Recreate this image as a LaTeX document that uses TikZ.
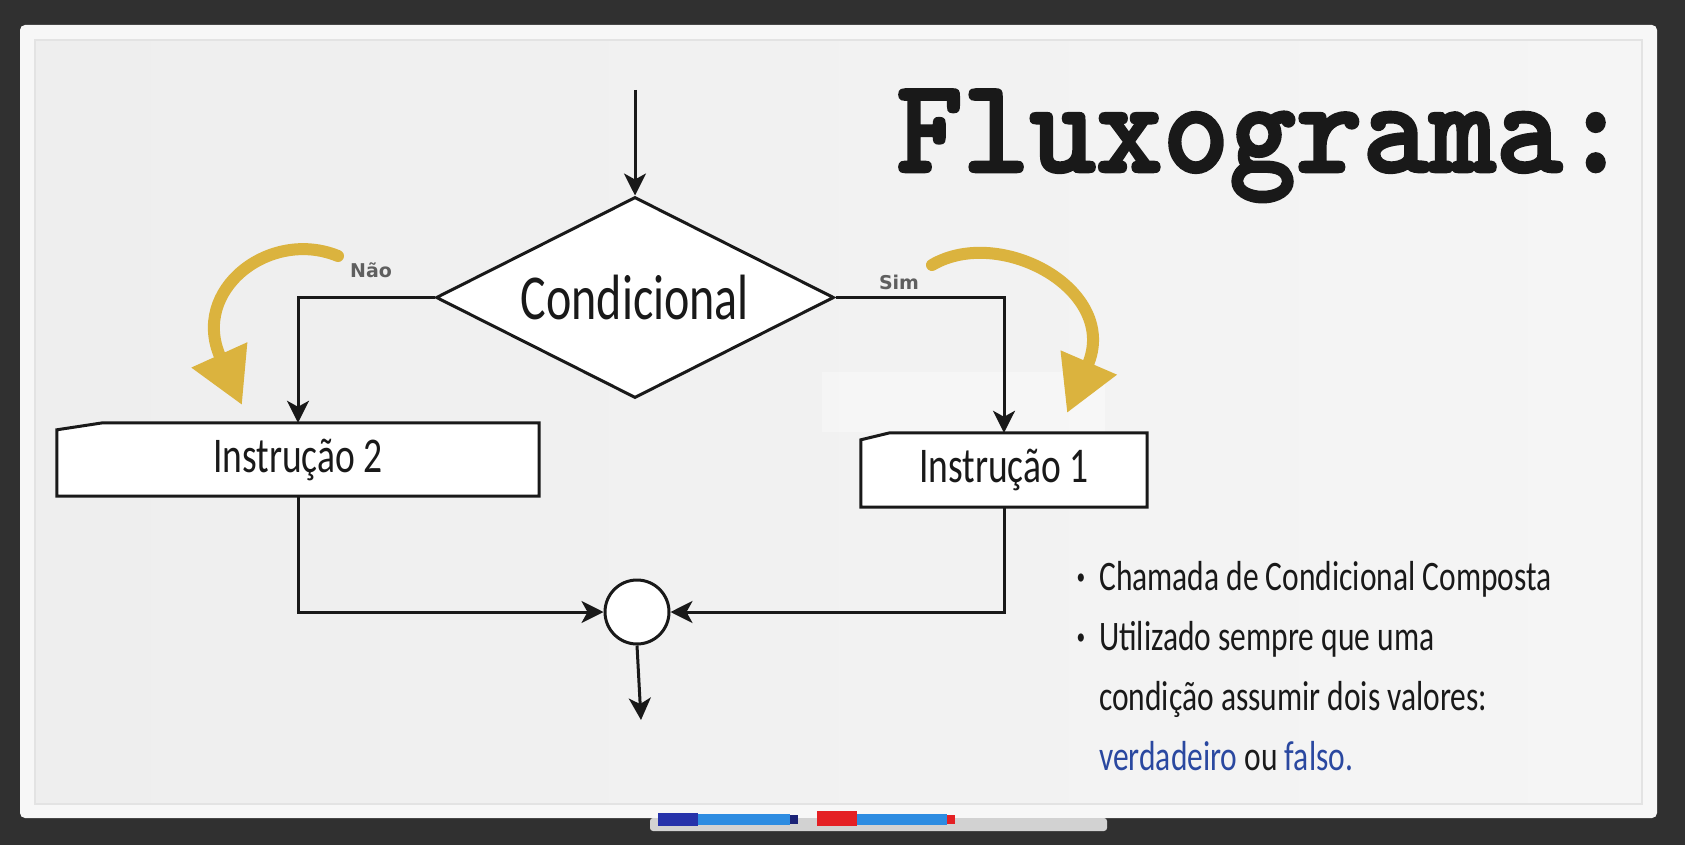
\documentclass[tikz,border=0pt]{standalone}
\usepackage{fontspec}
\usetikzlibrary{shapes.geometric,arrows.meta,backgrounds}
\newfontfamily\handfont{Carlito}[FakeStretch=0.75]
\newfontfamily\labelfont{DejaVu Sans}
\newfontfamily\titlefont{lmmonolt10-bold}[Extension=.otf,FakeBold=2,FakeStretch=0.94]
\definecolor{boardbg}{RGB}{48,48,48}
\definecolor{frameclr}{RGB}{247,247,247}
\definecolor{surfleft}{RGB}{238,238,238}
\definecolor{surfright}{RGB}{245,245,245}
\definecolor{arrowgold}{RGB}{219,179,62}
\definecolor{inkblue}{RGB}{42,72,160}
\definecolor{inkblack}{RGB}{25,25,25}
\definecolor{labelgray}{RGB}{95,95,95}
\definecolor{markerblue}{RGB}{45,140,225}
\definecolor{capblue}{RGB}{38,50,170}
\definecolor{capred}{RGB}{228,32,36}
\definecolor{trayclr}{RGB}{210,210,210}
\tikzset{
    flow/.style={draw=inkblack, line width=3pt, -{Stealth[length=22pt,width=22pt,inset=6pt]}},
    cond/.style={diamond, aspect=2, draw=inkblack, fill=white, line width=3pt,
        minimum width=398pt, minimum height=201pt, inner sep=0pt,
        font={\handfont\fontsize{64pt}{64pt}\selectfont}, text=inkblack},
    instr/.style={rectangle, minimum height=73pt, inner sep=0pt,
        font={\handfont\fontsize{50pt}{50pt}\selectfont}, text=inkblack},
    boxline/.style={draw=inkblack, fill=white, line width=3pt},
    joinpt/.style={circle, draw=inkblack, fill=white, line width=3pt, minimum size=64pt, inner sep=0pt},
    lbl/.style={font={\labelfont\bfseries\fontsize{19pt}{19pt}\selectfont}, text=labelgray, inner sep=0pt},
    turn/.style={draw=arrowgold, line width=12pt, line cap=round, -{Triangle[length=55pt,width=58pt]}},
    note/.style={anchor=base west, inner sep=0pt, text=inkblack,
        font={\handfont\fontsize{42pt}{60pt}\selectfont}},
    title/.style={anchor=base west, inner sep=0pt, text=inkblack,
        font={\titlefont\fontsize{135pt}{135pt}\selectfont}}
}
\newcommand{\dotmark}{\llap{\raisebox{6pt}{\scalebox{0.55}{\textbullet}}\hspace{14pt}}}
\begin{document}
\begin{tikzpicture}[x=1pt,y=-1pt]
    \useasboundingbox (0,0) rectangle (1685,845);
    \begin{scope}[on background layer]
        \fill[boardbg] (0,0) rectangle (1685,845);
        \fill[frameclr, rounded corners=5pt] (20,25) rectangle (1657,818);
        \shade[left color=surfleft, right color=surfright] (35,40) rectangle (1642,804);
        \draw[gray!22, line width=1.5pt] (35,40) rectangle (1642,804);
        \fill[white, opacity=0.35] (822,372) rectangle (1105,432);
        \fill[trayclr, rounded corners=3pt] (650,818) rectangle (1107,831);
        \fill[capblue] (658,813) rectangle (698,826);
        \fill[markerblue] (698,814) rectangle (790,825);
        \fill[capblue!70!black] (790,815) rectangle (798,824);
        \fill[capred] (817,811) rectangle (857,826);
        \fill[markerblue] (857,814) rectangle (947,825);
        \fill[capred] (947,815) rectangle (955,824);
    \end{scope}

    \node[title] (ttl) at (896,172) {Fluxograma:};

    \coordinate (entry) at (635,90);
    \node[cond] (cond) at (635,297.5) {Condicional};
    \node[instr, minimum width=482pt] (i2) at (298,459.5) {Instrução 2};
    \node[instr, minimum width=286pt, minimum height=74pt] (i1) at (1004,470) {Instrução 1};
    \node[joinpt] (join) at (637,612) {};
    \coordinate (exit) at (641,720);

    \begin{scope}[on background layer]
        \draw[boxline] (i2.south west) -- (i2.south east) -- (i2.north east)
            -- ([xshift=46pt]i2.north west) -- ([yshift=-7pt]i2.north west) -- cycle;
        \draw[boxline] (i1.south west) -- (i1.south east) -- (i1.north east)
            -- ([xshift=29pt]i1.north west) -- ([yshift=-7pt]i1.north west) -- cycle;
    \end{scope}

    \draw[flow] (entry) -- (cond.north);
    \draw[flow] (cond.west) -| (i2.north);
    \draw[flow] (cond.east) -| (i1.north);
    \draw[flow] (i2.south) |- (join.west);
    \draw[flow] (i1.south) |- (join.east);
    \draw[flow] (join.south) -- (exit);

    \node[lbl] (nao) at (371,270) {Não};
    \node[lbl] (sim) at (899,282) {Sim};

    \draw[turn] (338,256) .. controls (270,228) and (190,290) .. (242,405);
    \draw[turn] (932,265) .. controls (1000,225) and (1120,290) .. (1067,413);

    \node[note] (n1) at (1099,590) {\dotmark Chamada de Condicional Composta};
    \node[note] (n2) at (1099,650) {\dotmark Utilizado sempre que uma};
    \node[note] (n3) at (1099,710) {condição assumir dois valores:};
    \node[note] (n4) at (1099,770) {\textcolor{inkblue}{verdadeiro} ou \textcolor{inkblue}{falso.}};
\end{tikzpicture}
\end{document}
